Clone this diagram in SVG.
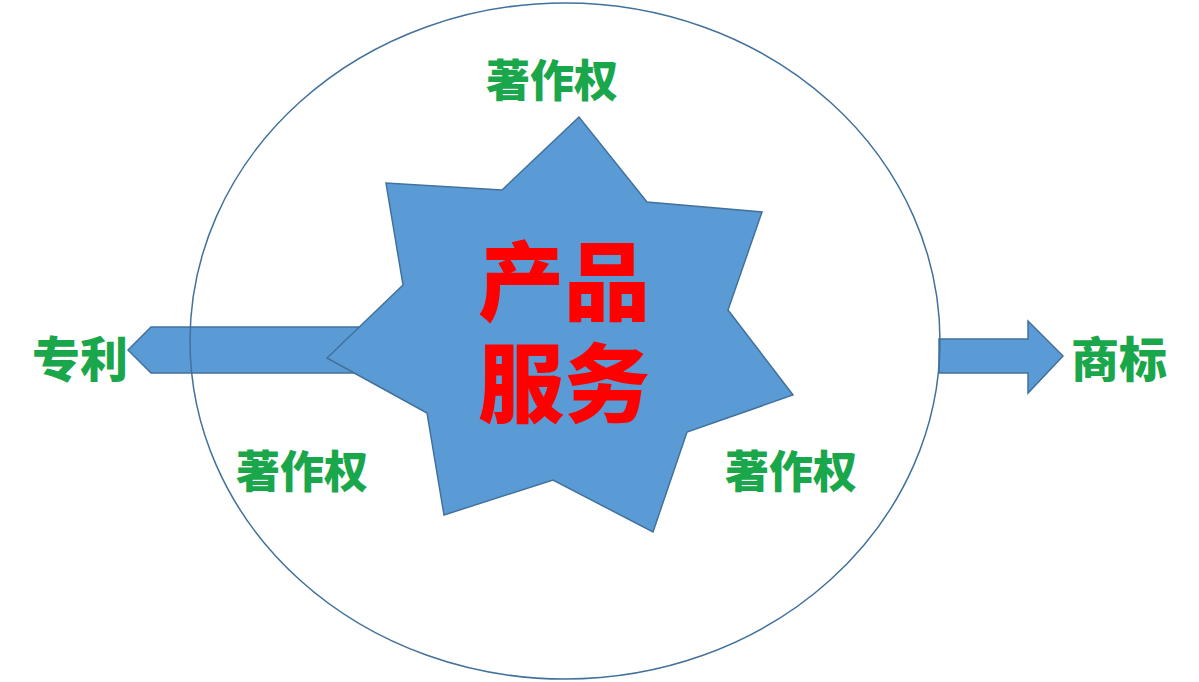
<svg xmlns="http://www.w3.org/2000/svg" width="1199" height="682" viewBox="0 0 1199 682">
<style>
.shape{fill:#5B9BD5;stroke:#41719C;stroke-width:1.5;stroke-linejoin:miter}
.ring{fill:none;stroke:#41719C;stroke-width:1.5}
.g{font-family:"Noto Sans CJK SC",sans-serif;font-weight:900;fill:#1AA64B;text-anchor:middle}
.r{font-family:"Noto Sans CJK SC",sans-serif;font-weight:900;fill:#FF0000;text-anchor:middle;font-size:86px}
</style>
<rect width="1199" height="682" fill="#FFFFFF"/>
<g id="connectors">
<polygon class="shape" points="128,350 151,327 420,327 420,373 151,373"/>
<polygon class="shape" points="939,339 1028,339 1028,321 1063,356 1028,393 1028,373 939,373"/>
</g>
<g id="circle">
<ellipse class="ring" cx="565" cy="341" rx="375" ry="338"/>
</g>
<g id="star">
<polygon class="shape" points="579,117 502,190 386,183 403,285 327,358 427,413 444,515 553,480 653,532 687,432 793,395 728,310 762,212 647,202"/>
<text class="r"><tspan x="564" y="314">产品</tspan><tspan x="564" y="416">服务</tspan></text>
</g>
<g id="top-label"><text class="g" x="552" y="97" font-size="44">著作权</text></g>
<g id="left-label"><text class="g" x="302" y="488" font-size="44">著作权</text></g>
<g id="right-label"><text class="g" x="791" y="488" font-size="44">著作权</text></g>
<g id="patent"><text class="g" x="80" y="377" font-size="48">专利</text></g>
<g id="trademark"><text class="g" x="1119" y="377" font-size="48">商标</text></g>
</svg>
